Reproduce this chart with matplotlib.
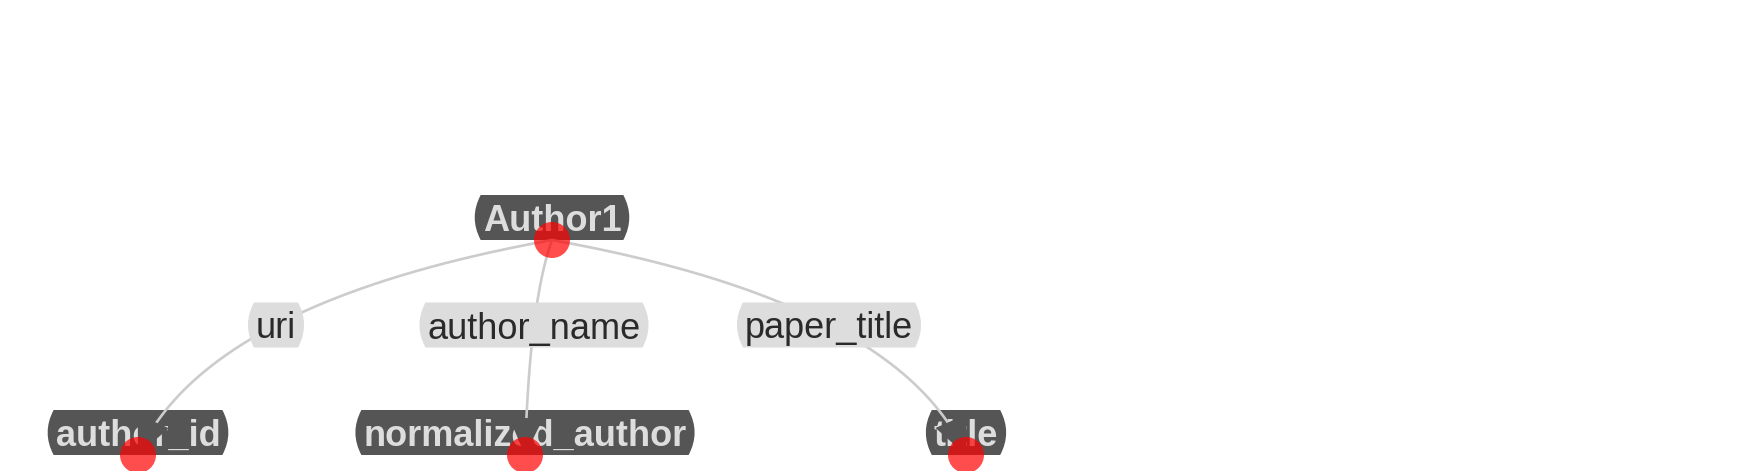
import matplotlib
matplotlib.use("Agg")
import matplotlib.pyplot as plt
import numpy as np
from matplotlib.path import Path
from matplotlib.patches import PathPatch, Circle, Polygon

# ---- data ----
nodes = ["Author1", "author_id", "normalized_author", "title"]
edge_sources = ["Author1", "Author1", "Author1"]
edge_labels = ["uri", "author_name", "paper_title"]
edge_targets = ["author_id", "normalized_author", "title"]

# ---- layout (pixel coordinates of node anchor points) ----
node_xy = {
    "Author1": (552, 240),
    "author_id": (138, 455),
    "normalized_author": (525, 455),
    "title": (966, 455),
}
label_xy = {
    "uri": (276, 325),
    "author_name": (534, 325),
    "paper_title": (829, 325),
}

W, H = 1755, 471
fig = plt.figure(figsize=(W / 100, H / 100), dpi=100)
ax = fig.add_axes([0, 0, 1, 1])
ax.set_xlim(0, W)
ax.set_ylim(H, 0)
ax.axis("off")

FONT = "Liberation Sans"
FS = 26
BOX_H = 45
PAD = 8
BULGE = 6

renderer = fig.canvas.get_renderer()


def text_width(s, weight):
    t = ax.text(0, 0, s, fontsize=FS, family=FONT, fontweight=weight)
    bb = t.get_window_extent(renderer=renderer)
    t.remove()
    return bb.width


def box_path(cx, cy, w, h, bulge):
    x0, x1 = cx - w / 2 + bulge, cx + w / 2 - bulge
    y0, y1 = cy - h / 2, cy + h / 2
    verts = [(x0, y0), (x1, y0), (x1 + 2 * bulge, cy), (x1, y1),
             (x0, y1), (x0 - 2 * bulge, cy), (x0, y0), (x0, y0)]
    codes = [Path.MOVETO, Path.LINETO, Path.CURVE3, Path.CURVE3,
             Path.LINETO, Path.CURVE3, Path.CURVE3, Path.CLOSEPOLY]
    return Path(verts, codes)


def draw_box(cx, cy, s, face, tcolor, weight, z):
    w = text_width(s, weight) + 2 * PAD
    ax.add_patch(PathPatch(box_path(cx, cy, w, BOX_H, BULGE), facecolor=face,
                           edgecolor="none", zorder=z))
    ax.text(cx, cy + 13.5, s, fontsize=FS, family=FONT, fontweight=weight,
            color=tcolor, ha="center", va="baseline", zorder=z + 0.1)


# node boxes (dark)
for n in nodes:
    x, y = node_xy[n]
    draw_box(x, y - BOX_H / 2, n, "#555555", "#dddddd", "bold", 1)

# edges: quadratic curves through label positions
for s, lab, t in zip(edge_sources, edge_labels, edge_targets):
    S = np.array(node_xy[s], float)
    T = np.array(node_xy[t], float)
    M = np.array(label_xy[lab], float)
    C = 2 * M - 0.5 * (S + T)
    tt = np.linspace(0, 1, 200)[:, None]
    pts = (1 - tt) ** 2 * S + 2 * (1 - tt) * tt * C + tt ** 2 * T
    d = T - C
    d /= np.linalg.norm(d)
    keep = np.linalg.norm(pts - T, axis=1) > 30
    ax.plot(pts[keep, 0], pts[keep, 1], color="#cccccc", lw=1.9, zorder=2,
            solid_capstyle="round")
    # arrow head
    nrm = np.array([-d[1], d[0]])
    base = T - 37 * d
    tri = [T, base + 17 * nrm, base - 17 * nrm]
    ax.add_patch(Polygon(tri, closed=True, facecolor="#555555",
                         edgecolor="none", zorder=5))
    # label box (light)
    draw_box(M[0], M[1], lab, "#dddddd", "#2a2a2a", "normal", 3)

# node anchor circles
for n in nodes:
    x, y = node_xy[n]
    ax.add_patch(Circle((x, y), 18, facecolor="red", alpha=0.7,
                        edgecolor="none", zorder=6))

fig.savefig("out.png", dpi=100)
